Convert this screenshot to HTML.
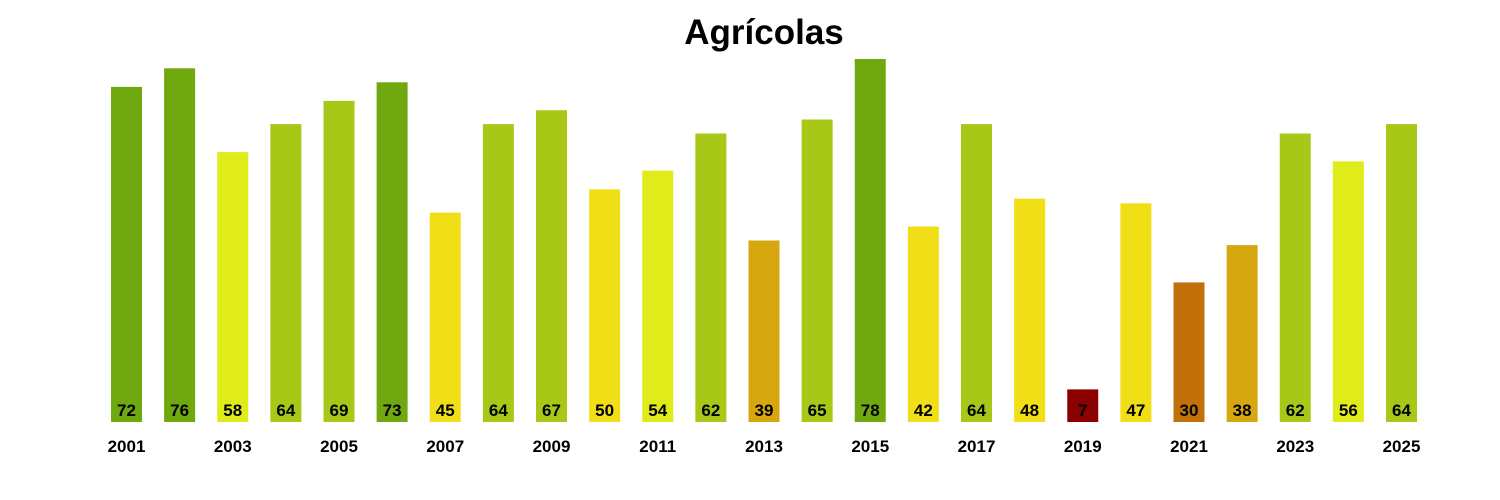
<!DOCTYPE html>
<html><head><meta charset="utf-8"><style>
html,body{margin:0;padding:0;background:#fff;}
svg{display:block;font-family:"Liberation Sans",Arial,sans-serif;}
</style></head><body>
<svg width="1500" height="500" viewBox="0 0 1500 500" xmlns="http://www.w3.org/2000/svg">
<rect width="1500" height="500" fill="#fff"/>
<text x="764" y="44" text-anchor="middle" font-size="35" font-weight="bold">Agrícolas</text>
<g>
<rect x="111" y="86.9" width="31" height="335.1" fill="#6fa80f"/>
<rect x="164.125" y="68.3" width="31" height="353.7" fill="#6fa80f"/>
<rect x="217.25" y="152.1" width="31" height="269.9" fill="#e0eb1a"/>
<rect x="270.375" y="124.1" width="31" height="297.9" fill="#a8c817"/>
<rect x="323.5" y="100.9" width="31" height="321.1" fill="#a8c817"/>
<rect x="376.625" y="82.3" width="31" height="339.7" fill="#6fa80f"/>
<rect x="429.75" y="212.6" width="31" height="209.4" fill="#f0df17"/>
<rect x="482.875" y="124.1" width="31" height="297.9" fill="#a8c817"/>
<rect x="536" y="110.2" width="31" height="311.8" fill="#a8c817"/>
<rect x="589.125" y="189.3" width="31" height="232.7" fill="#f0df17"/>
<rect x="642.25" y="170.7" width="31" height="251.3" fill="#e0eb1a"/>
<rect x="695.375" y="133.5" width="31" height="288.5" fill="#a8c817"/>
<rect x="748.5" y="240.5" width="31" height="181.5" fill="#d6a70f"/>
<rect x="801.625" y="119.5" width="31" height="302.5" fill="#a8c817"/>
<rect x="854.75" y="59" width="31" height="363" fill="#6fa80f"/>
<rect x="907.875" y="226.5" width="31" height="195.5" fill="#f0df17"/>
<rect x="961" y="124.1" width="31" height="297.9" fill="#a8c817"/>
<rect x="1014.125" y="198.6" width="31" height="223.4" fill="#f0df17"/>
<rect x="1067.25" y="389.4" width="31" height="32.6" fill="#8b0000"/>
<rect x="1120.375" y="203.3" width="31" height="218.7" fill="#f0df17"/>
<rect x="1173.5" y="282.4" width="31" height="139.6" fill="#c2700a"/>
<rect x="1226.625" y="245.1" width="31" height="176.9" fill="#d6a70f"/>
<rect x="1279.75" y="133.5" width="31" height="288.5" fill="#a8c817"/>
<rect x="1332.875" y="161.4" width="31" height="260.6" fill="#e0eb1a"/>
<rect x="1386" y="124.1" width="31" height="297.9" fill="#a8c817"/>
</g>
<g font-size="17" font-weight="bold" text-anchor="middle">
<text x="126.5" y="416">72</text>
<text x="179.625" y="416">76</text>
<text x="232.75" y="416">58</text>
<text x="285.875" y="416">64</text>
<text x="339" y="416">69</text>
<text x="392.125" y="416">73</text>
<text x="445.25" y="416">45</text>
<text x="498.375" y="416">64</text>
<text x="551.5" y="416">67</text>
<text x="604.625" y="416">50</text>
<text x="657.75" y="416">54</text>
<text x="710.875" y="416">62</text>
<text x="764" y="416">39</text>
<text x="817.125" y="416">65</text>
<text x="870.25" y="416">78</text>
<text x="923.375" y="416">42</text>
<text x="976.5" y="416">64</text>
<text x="1029.625" y="416">48</text>
<text x="1082.75" y="416">7</text>
<text x="1135.875" y="416">47</text>
<text x="1189" y="416">30</text>
<text x="1242.125" y="416">38</text>
<text x="1295.25" y="416">62</text>
<text x="1348.375" y="416">56</text>
<text x="1401.5" y="416">64</text>
</g>
<g font-size="17" font-weight="bold" text-anchor="middle">
<text x="126.5" y="452">2001</text>
<text x="232.75" y="452">2003</text>
<text x="339" y="452">2005</text>
<text x="445.25" y="452">2007</text>
<text x="551.5" y="452">2009</text>
<text x="657.75" y="452">2011</text>
<text x="764" y="452">2013</text>
<text x="870.25" y="452">2015</text>
<text x="976.5" y="452">2017</text>
<text x="1082.75" y="452">2019</text>
<text x="1189" y="452">2021</text>
<text x="1295.25" y="452">2023</text>
<text x="1401.5" y="452">2025</text>
</g>
</svg>
</body></html>
